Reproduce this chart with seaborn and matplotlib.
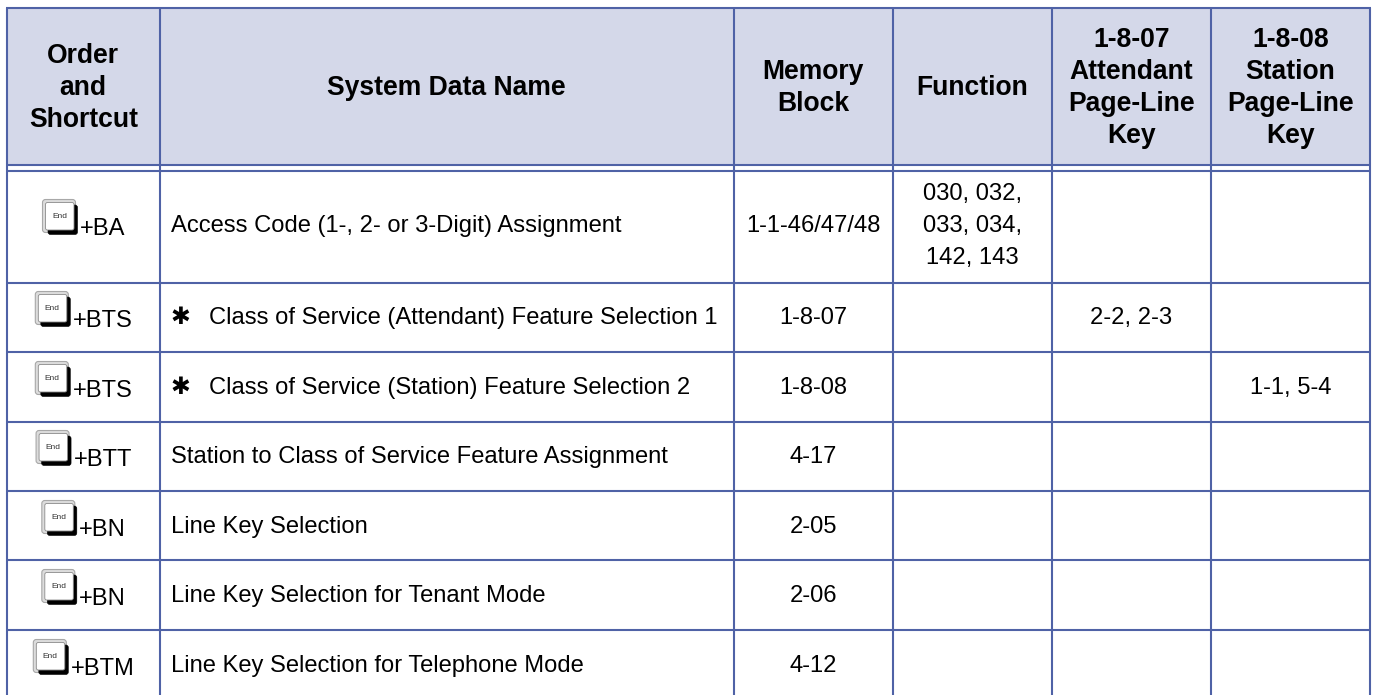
import matplotlib
matplotlib.use("Agg")
import matplotlib.pyplot as plt
from matplotlib.patches import FancyBboxPatch, Rectangle
import seaborn as sns

# ---- table content ----
headers = [
    ["Order", "and", "Shortcut"],
    ["System Data Name"],
    ["Memory", "Block"],
    ["Function"],
    ["1-8-07", "Attendant", "Page-Line", "Key"],
    ["1-8-08", "Station", "Page-Line", "Key"],
]
shortcuts = ["+BA", "+BTS", "+BTS", "+BTT", "+BN", "+BN", "+BTM"]
names = [
    "Access Code (1-, 2- or 3-Digit) Assignment",
    "Class of Service (Attendant) Feature Selection 1",
    "Class of Service (Station) Feature Selection 2",
    "Station to Class of Service Feature Assignment",
    "Line Key Selection",
    "Line Key Selection for Tenant Mode",
    "Line Key Selection for Telephone Mode",
]
starred = [False, True, True, False, False, False, False]
memory_blocks = ["1-1-46/47/48", "1-8-07", "1-8-08", "4-17", "2-05", "2-06", "4-12"]
functions = [["030, 032,", "033, 034,", "142, 143"], [], [], [], [], [], []]
attendant_keys = ["", "2-2, 2-3", "", "", "", "", ""]
station_keys = ["", "", "1-1, 5-4", "", "", "", ""]

# ---- layout (pixels) ----
W, H = 1376, 695
col_edges = [7, 159.5, 734, 892.5, 1052, 1211, 1369.5]
row_edges = [171, 283, 351.5, 421.5, 490.5, 560, 630]
header_lines = [8, 165]
row_base = [232, 324, 394, 463, 533, 602, 672]
LINE = "#4f62a6"
FILL = "#d4d8e9"
FS_B = 17.15
FS_H = 19.1

sns.set_theme(style="white")
plt.rcParams["font.family"] = ["Liberation Sans", "DejaVu Sans"]

fig, ax = plt.subplots(figsize=(W / 100, H / 100), dpi=100)
ax.set_position([0, 0, 1, 1])
ax.set_xlim(0, W)
ax.set_ylim(H, 0)
ax.set_xticks([])
ax.set_yticks([])
sns.despine(ax=ax, left=True, bottom=True)

# header band
ax.add_patch(Rectangle((col_edges[0], 8), col_edges[-1] - col_edges[0], 157, fc=FILL, ec="none", zorder=0))

# rules
for y in header_lines + row_edges:
    ax.plot([col_edges[0] - 1, col_edges[-1] + 1], [y, y], color=LINE, lw=1.5, solid_capstyle="butt", zorder=3)
for x in col_edges:
    ax.plot([x, x], [8, H], color=LINE, lw=1.5, solid_capstyle="butt", zorder=3)

centres = [(a + b) / 2 for a, b in zip(col_edges[:-1], col_edges[1:])]

# header text
for cx, lines in zip(centres, headers):
    pitch = 32
    first = 95 - pitch * (len(lines) - 1) / 2
    for i, s in enumerate(lines):
        ax.text(cx, first + i * pitch, s, ha="center", va="baseline", fontsize=FS_H, fontweight="bold", color="black")


def key_icon(x, top):
    # raised keyboard key: light rim, black shadow, white face
    ax.add_patch(FancyBboxPatch((x + 0.5, top + 0.5), 33, 33, boxstyle="round,pad=0,rounding_size=3",
                                fc="#dcdcdc", ec="#a8a8a8", lw=0.8, zorder=4))
    ax.add_patch(FancyBboxPatch((x + 6, top + 6), 29.5, 29.5, boxstyle="round,pad=0,rounding_size=2.5",
                                fc="black", ec="black", lw=0.4, zorder=5))
    ax.add_patch(FancyBboxPatch((x + 3.5, top + 3.5), 28.5, 27.5, boxstyle="round,pad=0,rounding_size=2",
                                fc="white", ec="#8a8a8a", lw=0.6, zorder=6))
    ax.text(x + 17.5, top + 17.5, "End", ha="center", va="center", fontsize=6, color="#333333", zorder=7)


fig.canvas.draw()
rend = fig.canvas.get_renderer()

for i, base in enumerate(row_base):
    t = ax.text(0, base + 3, shortcuts[i], ha="left", va="baseline", fontsize=FS_B, color="black")
    tw = t.get_window_extent(rend).width
    left = centres[0] + 0.5 - (38 + tw) / 2
    t.set_x(left + 38)
    key_icon(left, base - 33)

    if starred[i]:
        ax.text(180, base - 7, "\u2731", ha="center", va="center", fontsize=17, color="black",
                family="DejaVu Sans", fontweight="bold", zorder=4)
        ax.text(209, base, names[i], ha="left", va="baseline", fontsize=FS_B, color="black")
    else:
        ax.text(171, base, names[i], ha="left", va="baseline", fontsize=FS_B, color="black")

    ax.text(centres[2], base, memory_blocks[i], ha="center", va="baseline", fontsize=FS_B, color="black")
    fn = functions[i]
    for j, s in enumerate(fn):
        ax.text(centres[3], base + (j - (len(fn) - 1) / 2) * 32, s, ha="center", va="baseline", fontsize=FS_B, color="black")
    ax.text(centres[4], base, attendant_keys[i], ha="center", va="baseline", fontsize=FS_B, color="black")
    ax.text(centres[5], base, station_keys[i], ha="center", va="baseline", fontsize=FS_B, color="black")

fig.savefig("out.png", dpi=100, facecolor="white")
